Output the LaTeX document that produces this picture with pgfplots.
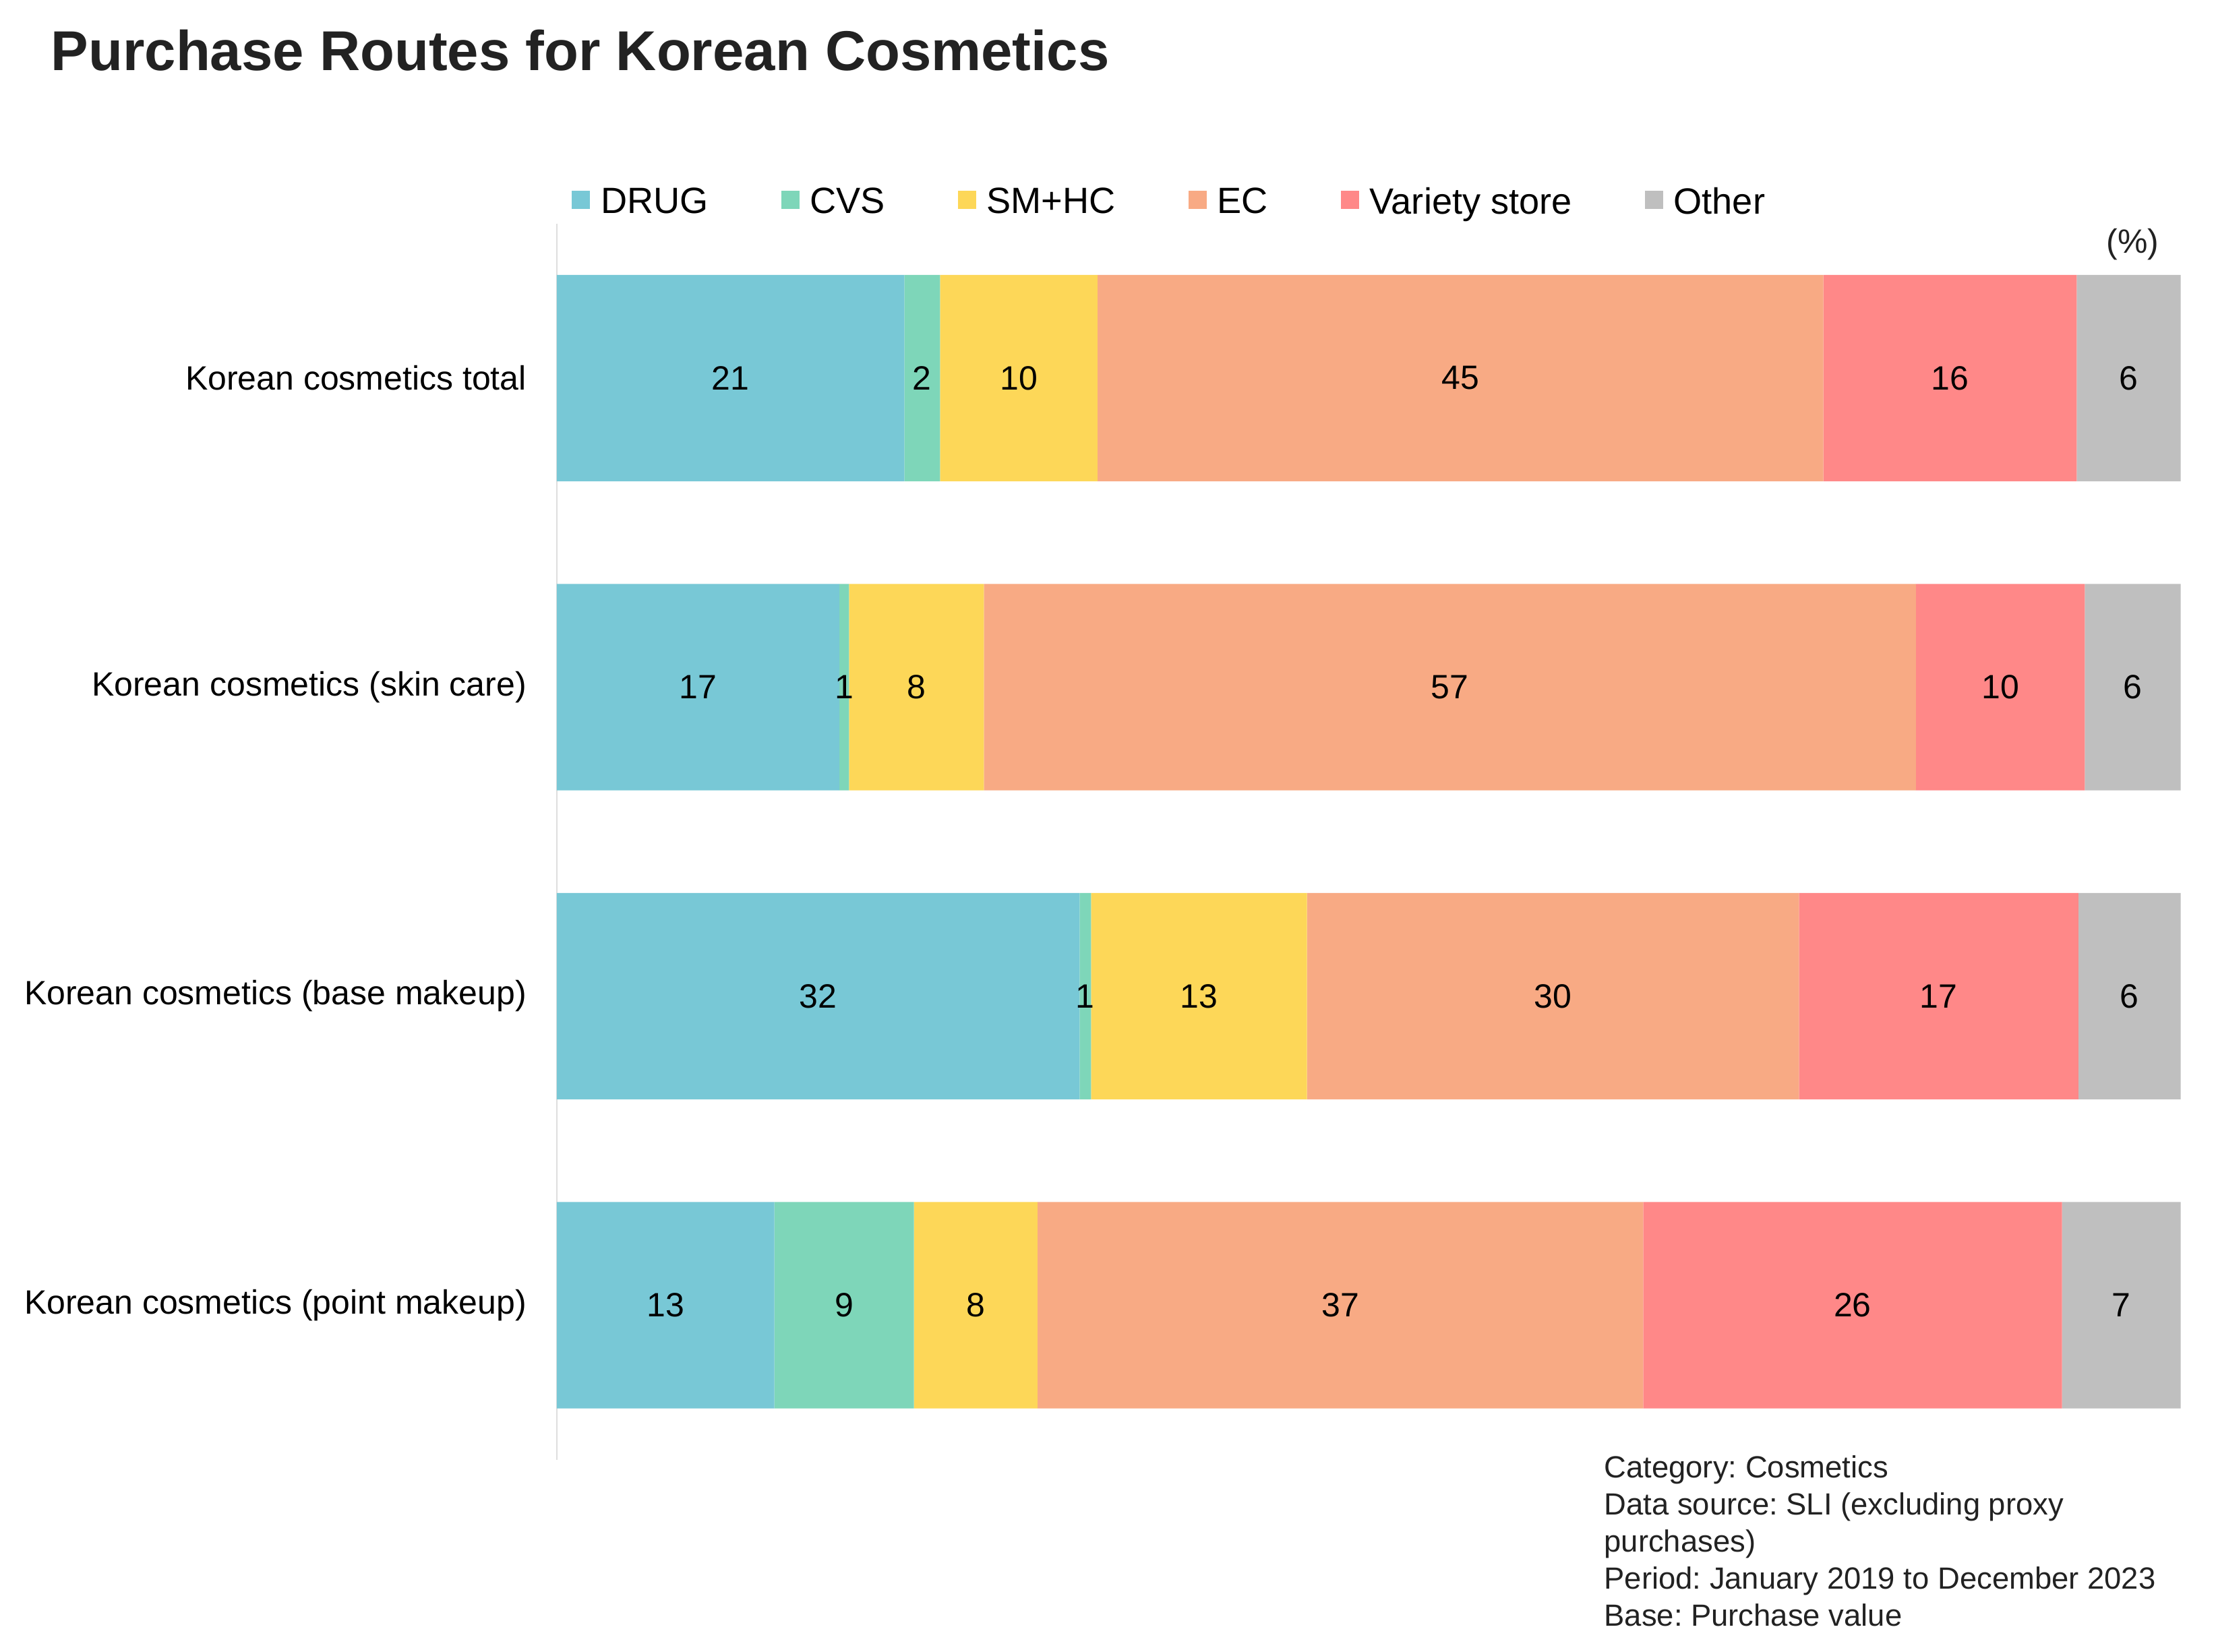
\documentclass[border=0pt]{standalone}
\usepackage{fontspec}
\setmainfont{Liberation Sans}
\usepackage{pgfplots}
\usepackage{pgfplotstable}
\pgfplotsset{compat=1.18}
\frenchspacing
\definecolor{cDRUG}{HTML}{78C8D6}
\definecolor{cCVS}{HTML}{7ED6B9}
\definecolor{cSM}{HTML}{FDD758}
\definecolor{cEC}{HTML}{F8AA84}
\definecolor{cVAR}{HTML}{FF8888}
\definecolor{cOTH}{HTML}{BFBFBF}
\definecolor{txt}{HTML}{222222}
\pgfplotstableread{
idx DRUG CVS SMHC EC VAR OTH
0 21.4 2.2 9.7 44.7 15.6 6.4
1 17.4 0.6 8.3 57.4 10.4 5.9
2 32.2 0.7 13.3 30.3 17.2 6.3
3 13.4 8.6 7.6 37.3 25.8 7.3
}\data
\begin{document}
\frenchspacing
\begin{tikzpicture}
\path[use as bounding box] (0,0) rectangle (788.9pt,588.2pt);
\begin{axis}[
  at={(198.2pt,68.4pt)}, anchor=south west,
  scale only axis, width=578.1pt, height=440.2pt,
  xbar stacked, bar width=73.5pt,
  xmin=0, xmax=100, ymin=-0.5, ymax=3.5, y dir=reverse,
  ytick={0,1,2,3},
  yticklabels={Korean cosmetics total, Korean cosmetics (skin care), Korean cosmetics (base makeup), Korean cosmetics (point makeup)},
  axis x line=none, axis y line*=left,
  y axis line style={draw=black!13, line width=0.6pt},
  major tick length=0pt,
  /pgf/number format/assume math mode=true,
  yticklabel style={font=\fontsize{12}{14}\selectfont, text=black, inner sep=0pt, xshift=-10.6pt, anchor=east},
  legend columns=6,
  legend image code/.code={\fill[#1] (0pt,-2.3pt) rectangle (6.5pt,4.3pt);},
  legend style={draw=none, fill=none, inner sep=0pt, at={(axis description cs:0,1)}, anchor=south west, xshift=5.2pt, yshift=1.8pt, font=\fontsize{13}{15}\selectfont, nodes={inner sep=0pt}, /tikz/every odd column/.append style={column sep=3.8pt}, /tikz/every even column/.append style={column sep=25.9pt}},
  visualization depends on={rawx \as \rawx},
  nodes near coords={\pgfmathprintnumber[fixed,precision=0,assume math mode=true]{\rawx}},
  every node near coord/.append style={font=\fontsize{12}{14}\selectfont, text=black, anchor=center},
]
\addplot[fill=cDRUG, draw=none] table[x=DRUG, y=idx]{\data};
\addplot[fill=cCVS, draw=none] table[x=CVS, y=idx]{\data};
\addplot[fill=cSM, draw=none] table[x=SMHC, y=idx]{\data};
\addplot[fill=cEC, draw=none] table[x=EC, y=idx]{\data};
\addplot[fill=cVAR, draw=none] table[x=VAR, y=idx]{\data};
\addplot[fill=cOTH, draw=none] table[x=OTH, y=idx]{\data};
\legend{DRUG, CVS, SM+HC, EC, Variety store, Other}
\end{axis}
\node[anchor=base west, inner sep=0pt, font=\fontsize{20}{24}\selectfont\bfseries, text=txt] at (18pt,563.2pt) {Purchase Routes for Korean Cosmetics};
\node[anchor=east, inner sep=0pt, font=\fontsize{12}{14}\selectfont, text=txt] at (768.8pt,501.1pt) {(\%)};
\begin{scope}[every node/.style={anchor=base west, inner sep=0pt, font=\fontsize{10.9}{13.2}\selectfont, text=txt}]
\node at (570.9pt,62.1pt) {Category: Cosmetics};
\node at (570.9pt,48.9pt) {Data source: SLI (excluding proxy};
\node at (570.9pt,35.7pt) {purchases)};
\node at (570.9pt,22.5pt) {Period: January 2019 to December 2023};
\node at (570.9pt,9.3pt) {Base: Purchase value};
\end{scope}
\end{tikzpicture}
\end{document}
